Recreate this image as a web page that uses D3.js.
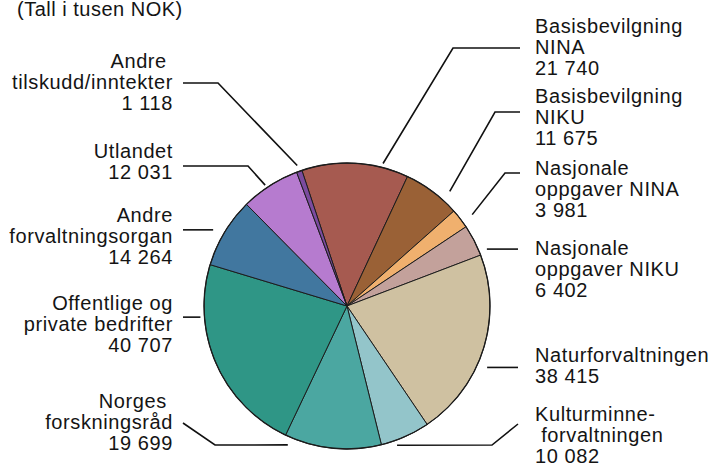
<!DOCTYPE html>
<meta charset="utf-8">
<head>
    <meta charset="UTF-8">
    <title>Tall i tusen NOK</title>
    <style>
      body { margin: 0; background: #fff; }
      text { font-family: "Liberation Sans", Arial, Helvetica, sans-serif; fill: #141414; }
    </style>
</head>
<body>
<script src="https://d3js.org/d3.v7.min.js"></script>
<div id="pie"></div>
<script>

    // data, in thousand NOK, clockwise from the top
    const names = ["Basisbevilgning NINA", "Basisbevilgning NIKU", "Nasjonale oppgaver NINA",
      "Nasjonale oppgaver NIKU", "Naturforvaltningen", "Kulturminneforvaltningen",
      "Norges forskningsråd", "Offentlige og private bedrifter", "Andre forvaltningsorgan",
      "Utlandet", "Andre tilskudd/inntekter"]
    const values = [21740, 11675, 3981, 6402, 38415, 10082, 19699, 40707, 14264, 12031, 1118]
    const valueLabels = ["21 740", "11 675", "3 981", "6 402", "38 415", "10 082",
      "19 699", "40 707", "14 264", "12 031", "1 118"]
    const labelLines = [
      ["Basisbevilgning", "NINA"],
      ["Basisbevilgning", "NIKU"],
      ["Nasjonale", "oppgaver NINA"],
      ["Nasjonale", "oppgaver NIKU"],
      ["Naturforvaltningen"],
      ["Kulturminne-", " forvaltningen"],
      ["Norges ", "forskningsråd"],
      ["Offentlige og", "private bedrifter"],
      ["Andre", "forvaltningsorgan"],
      ["Utlandet"],
      ["Andre ", "tilskudd/inntekter"]
    ]
    const colors = ["#a65a50", "#9a6136", "#f0b06e", "#c3a19b", "#cfc1a1", "#93c5ca",
      "#4ba7a1", "#2f9686", "#41779f", "#b67bcf", "#7b4b9f"]

    const width = 714, height = 464
    const cx = 347, cy = 306, r = 143
    const startDeg = -18.4

    // label placement: side, first baseline, elbow points, where the leader meets the slice
    // t = position inside the slice (0..1), gap = distance outside the rim, flat = horizontal leader
    const layout = [
      {side: "r", y: 33,  pts: [[520, 48], [453, 48]],  t: 0.75, gap: 4},
      {side: "r", y: 103, pts: [[520, 112], [495, 112]], t: 0.72, gap: 11},
      {side: "r", y: 175, pts: [[520, 173], [505, 173]], t: 0.69, gap: 12},
      {side: "r", y: 255, pts: [[518, 0]], t: 0.9, gap: 8, flat: true},
      {side: "r", y: 362, pts: [[518, 0]], t: 0.58, gap: 10, flat: true},
      {side: "r", y: 421, pts: [[518, 424], [492, 445]], t: 0.71, gap: 5},
      {side: "l", y: 408, pts: [[183, 423], [215, 445]], t: 0.94, gap: 8},
      {side: "l", y: 310, pts: [[183, 0]], t: 0.74, gap: 4, flat: true},
      {side: "l", y: 222, pts: [[183, 0]], t: 0.45, gap: 11, flat: true},
      {side: "l", y: 158, pts: [[183, 166], [248, 166]], t: 0.44, gap: 3},
      {side: "l", y: 68,  pts: [[183, 83], [218, 83]],  t: 0.5, gap: 6}
    ]
    const lineH = 21.2

    const svg = d3.select("#pie")
      .append("svg")
        .attr("width", width)
        .attr("height", height)

    svg.append("text")
      .attr("x", 17)
      .attr("y", 16)
      .style("font-size", "20px")
      .style("letter-spacing", "0.5px")
      .text("(Tall i tusen NOK)")

    const rad = d => d * Math.PI / 180
    const pie = d3.pie()
      .sort(null)
      .startAngle(rad(startDeg))
      .endAngle(rad(startDeg + 360))
    const arcs = pie(values)

    const arc = d3.arc().innerRadius(0).outerRadius(r)

    const g = svg.append("g").attr("transform", `translate(${cx},${cy})`)
    g.selectAll("path")
      .data(arcs)
      .join("path")
        .attr("d", arc)
        .attr("fill", (d, i) => colors[i])
        .attr("stroke", "#1c1c1c")
        .attr("stroke-width", 1)
        .attr("stroke-linejoin", "round")

    // outer rim
    g.append("circle")
      .attr("r", r)
      .attr("fill", "none")
      .attr("stroke", "#1c1c1c")
      .attr("stroke-width", 1.3)

    // leaders
    const line = d3.line()
    arcs.forEach((a, i) => {
      const L = layout[i]
      const ang = a.startAngle + L.t * (a.endAngle - a.startAngle)
      const rr = r + L.gap
      const end = [cx + rr * Math.sin(ang), cy - rr * Math.cos(ang)]
      const pts = L.flat ? [[L.pts[0][0], end[1]], end] : [...L.pts, end]
      svg.append("path")
        .attr("d", line(pts))
        .attr("fill", "none")
        .attr("stroke", "#111")
        .attr("stroke-width", 1.6)
    })

    // labels
    arcs.forEach((a, i) => {
      const L = layout[i]
      const lines = [...labelLines[i], valueLabels[i]]
      const t = svg.append("text")
        .attr("text-anchor", L.side === "l" ? "end" : "start")
        .attr("xml:space", "preserve")
        .style("white-space", "pre")
        .style("font-size", "20px")
        .style("letter-spacing", "0.6px")
      lines.forEach((s, k) => {
        t.append("tspan")
          .attr("x", L.side === "l" ? 173 : 535)
          .attr("y", L.y + k * lineH)
          .text(s)
      })
    })
    </script>
</body>
